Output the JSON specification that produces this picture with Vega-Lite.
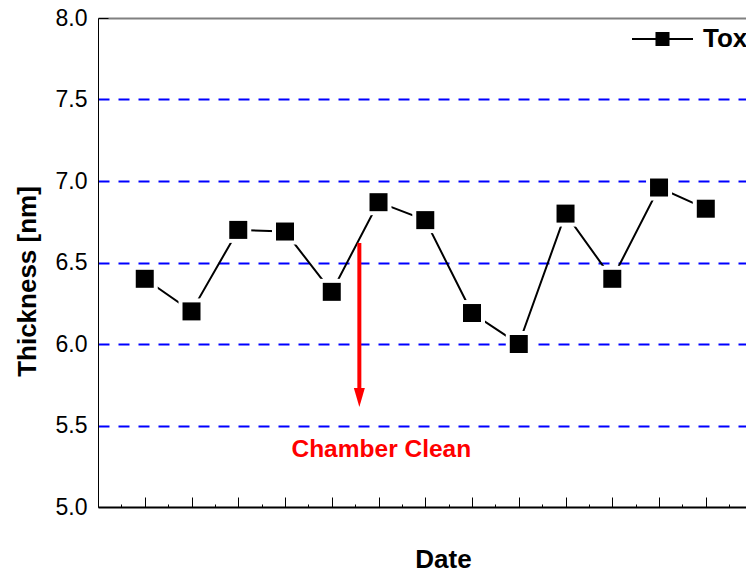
{
  "$schema": "https://vega.github.io/schema/vega-lite/v6.json",
  "autosize": {"type": "none"},
  "padding": {"left": 98, "top": 18, "right": 0, "bottom": 66},
  "width": 648,
  "height": 489,
  "background": "white",
  "config": {
    "font": "Liberation Sans",
    "view": {"stroke": null},
    "legend": {
      "orient": "none",
      "legendX": 534,
      "legendY": -9.5,
      "padding": 0,
      "symbolType": "M-1,-0.033H-0.23V0.033H-1Z M-0.23,-0.23H0.23V0.23H-0.23Z M0.23,-0.033H1V0.033H0.23Z",
      "symbolSize": 3721,
      "symbolStrokeWidth": 0,
      "labelFont": "Liberation Sans",
      "labelFontSize": 26,
      "labelFontWeight": "bold",
      "labelColor": "black",
      "labelOffset": 10,
      "labelLimit": 0
    }
  },
  "datasets": {
    "tox": [
      {"idx": 1, "thickness": 6.40, "series": "Tox"},
      {"idx": 2, "thickness": 6.20, "series": "Tox"},
      {"idx": 3, "thickness": 6.70, "series": "Tox"},
      {"idx": 4, "thickness": 6.69, "series": "Tox"},
      {"idx": 5, "thickness": 6.32, "series": "Tox"},
      {"idx": 6, "thickness": 6.87, "series": "Tox"},
      {"idx": 7, "thickness": 6.76, "series": "Tox"},
      {"idx": 8, "thickness": 6.19, "series": "Tox"},
      {"idx": 9, "thickness": 6.00, "series": "Tox"},
      {"idx": 10, "thickness": 6.80, "series": "Tox"},
      {"idx": 11, "thickness": 6.40, "series": "Tox"},
      {"idx": 12, "thickness": 6.96, "series": "Tox"},
      {"idx": 13, "thickness": 6.83, "series": "Tox"}
    ],
    "arrow": [{"idx": 5.59, "top": 6.62, "bottom": 5.69, "head": 5.672}],
    "note": [{"idx": 6.06, "thickness": 5.35, "label": "Chamber Clean"}]
  },
  "encoding": {
    "x": {
      "field": "idx",
      "type": "quantitative",
      "scale": {"domain": [0, 13.86], "nice": false, "zero": false},
      "axis": {
        "title": "Date",
        "titleFont": "Liberation Sans",
        "titleFontSize": 26,
        "titleFontWeight": "bold",
        "titleColor": "black",
        "titleX": 345,
        "titleY": 52,
        "titleBaseline": "middle",
        "titleAlign": "center",
        "values": [0.5, 1, 1.5, 2, 2.5, 3, 3.5, 4, 4.5, 5, 5.5, 6, 6.5, 7, 7.5, 8, 8.5, 9, 9.5, 10, 10.5, 11, 11.5, 12, 12.5, 13, 13.5],
        "labels": false,
        "grid": false,
        "tickColor": "black",
        "tickWidth": 1,
        "tickSize": {"condition": {"test": "datum.value % 1 !== 0", "value": -3}, "value": -10},
        "domainColor": "black",
        "domainWidth": 2
      }
    }
  },
  "layer": [
    {
      "data": {"name": "tox"},
      "mark": {"type": "line", "color": "black", "strokeWidth": 2},
      "encoding": {
        "y": {
          "field": "thickness",
          "type": "quantitative",
          "scale": {"domain": [5, 8], "nice": false, "zero": false},
          "axis": {
            "title": "Thickness [nm]",
            "titleFont": "Liberation Sans",
            "titleFontSize": 26,
            "titleFontWeight": "bold",
            "titleColor": "black",
            "titleX": -71,
            "titleY": 263,
            "titleBaseline": "middle",
            "titleAlign": "center",
            "titleAngle": -90,
            "values": [5, 5.5, 6, 6.5, 7, 7.5, 8],
            "format": ".1f",
            "labelFont": "Liberation Sans",
            "labelFontSize": 23,
            "labelColor": "black",
            "labelPadding": 21,
            "tickSize": -10,
            "tickColor": "black",
            "tickWidth": 1,
            "tickOpacity": {"condition": {"test": "datum.value > 5 && datum.value < 8", "value": 0}, "value": 1},
            "domainColor": "black",
            "domainWidth": 1,
            "grid": true,
            "gridColor": {"condition": {"test": "datum.value >= 8", "value": "#808080"}, "value": "#0000ff"},
            "gridDash": {"condition": {"test": "datum.value >= 8", "value": []}, "value": [11, 9]},
            "gridOpacity": {"condition": {"test": "datum.value <= 5", "value": 0}, "value": 1},
            "gridWidth": 2
          }
        }
      }
    },
    {
      "data": {"name": "tox"},
      "mark": {"type": "point", "shape": "square", "filled": true, "color": "white", "opacity": 1, "size": 676},
      "encoding": {
        "y": {"field": "thickness", "type": "quantitative"}
      }
    },
    {
      "data": {"name": "tox"},
      "mark": {"type": "point", "shape": "square", "filled": true, "opacity": 1, "size": 324},
      "encoding": {
        "y": {"field": "thickness", "type": "quantitative"},
        "color": {
          "field": "series",
          "type": "nominal",
          "scale": {"range": ["black"]},
          "legend": {"title": null}
        }
      }
    },
    {
      "data": {"name": "arrow"},
      "mark": {"type": "rule", "color": "#ff0000", "strokeWidth": 4},
      "encoding": {
        "y": {"field": "top", "type": "quantitative"},
        "y2": {"field": "bottom"}
      }
    },
    {
      "data": {"name": "arrow"},
      "mark": {"type": "point", "shape": "M-0.55,-0.95L0.55,-0.95L0,0.95Z", "filled": true, "color": "#ff0000", "opacity": 1, "size": 400},
      "encoding": {
        "y": {"field": "head", "type": "quantitative"}
      }
    },
    {
      "data": {"name": "note"},
      "mark": {"type": "text", "font": "Liberation Sans", "fontSize": 24.5, "fontWeight": "bold", "color": "#ff0000", "align": "center", "baseline": "middle"},
      "encoding": {
        "y": {"field": "thickness", "type": "quantitative"},
        "text": {"field": "label"}
      }
    }
  ]
}
